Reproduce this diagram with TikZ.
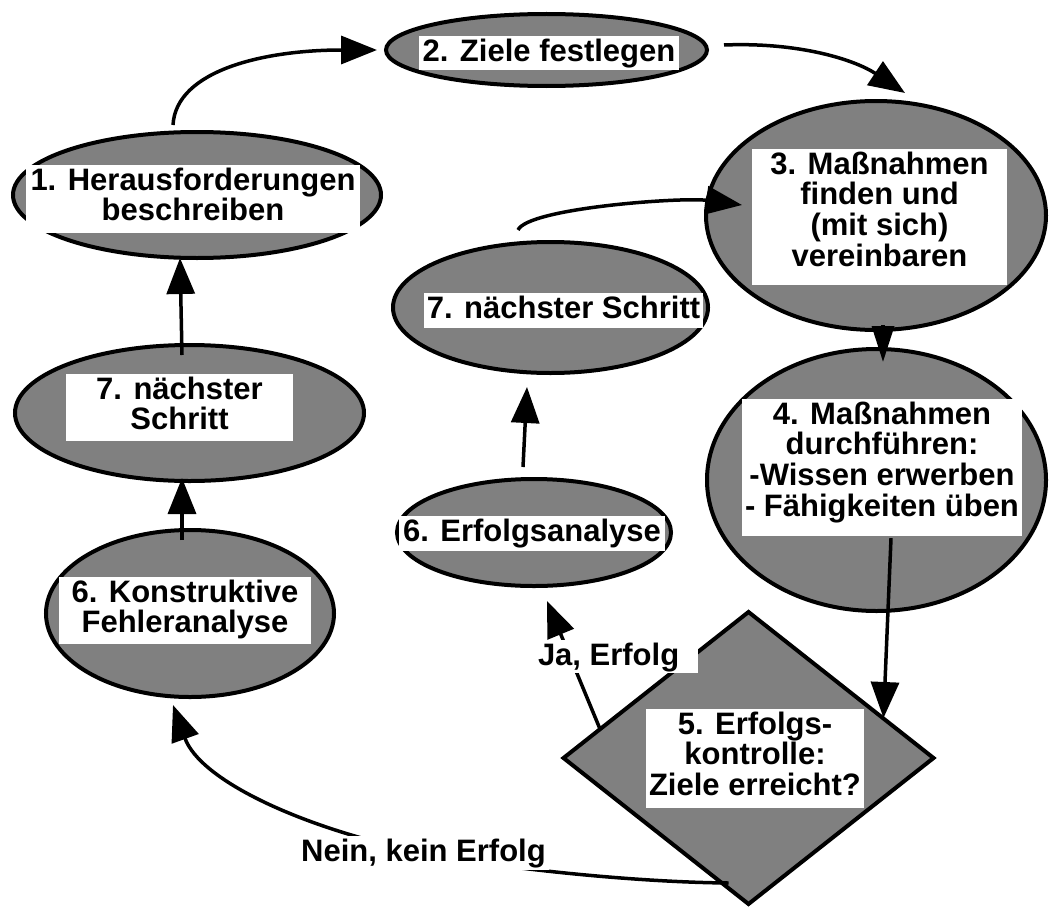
\documentclass[tikz,border=0pt]{standalone}
\usepackage{fontspec}
\setmainfont{Liberation Sans}
\usetikzlibrary{shapes.geometric,arrows.meta,calc}
\definecolor{shapegray}{RGB}{128,128,128}
\pgfdeclarelayer{shapelayer}
\pgfdeclarelayer{linklayer}
\pgfsetlayers{shapelayer,linklayer,main}
\newcommand\tbtop{\rule{0pt}{25pt}}
\newcommand\tbbot[1]{\rule[-#1]{0pt}{#1}}
\begin{document}
\begin{tikzpicture}[x=1pt,y=-1pt,
  oval/.style={ellipse, draw=black, line width=4pt, fill=shapegray, inner sep=0pt, outer sep=0pt},
  decision/.style={diamond, draw=black, line width=4pt, fill=shapegray, inner sep=0pt, outer sep=0pt},
  tb/.style={fill=white, inner sep=0pt, align=center, font=\bfseries\fontsize{31pt}{30.7pt}\selectfont},
  link/.style={line width=3.5pt, -{Triangle[length=36pt,width=28pt]}},
]
\useasboundingbox (0,0) rectangle (1051,907);

\begin{pgfonlayer}{shapelayer}
\node[oval, minimum width=368pt, minimum height=126pt] (e1) at (197,195) {};
\node[oval, minimum width=321pt, minimum height=72pt] (e2) at (546.5,50) {};
\node[oval, minimum width=340pt, minimum height=229pt] (e3) at (876,215.5) {};
\node[oval, minimum width=315pt, minimum height=131pt] (e7R) at (550.5,307.5) {};
\node[oval, minimum width=339pt, minimum height=262pt] (e4) at (876.5,480) {};
\node[oval, minimum width=349pt, minimum height=136pt] (e7L) at (189.5,413) {};
\node[oval, minimum width=274pt, minimum height=107pt] (e6E) at (534,532.5) {};
\node[oval, minimum width=288pt, minimum height=167pt] (e6K) at (190,613.5) {};
\node[decision, minimum width=370pt, minimum height=292pt] (d5) at (748.5,758) {};
\end{pgfonlayer}

\node[tb, minimum width=334pt] (t1) at (193,199) {\tbtop 1. Herausforderungen\\beschreiben\tbbot{12.3pt}};
\node[tb, minimum width=260pt] (t2) at (549,53) {\tbtop 2. Ziele festlegen\tbbot{9pt}};
\node[tb, minimum width=255pt] (t3) at (879.5,217) {\tbtop 3. Maßnahmen\\finden und\\(mit sich)\\vereinbaren\tbbot{18.9pt}};
\node[tb, minimum width=280pt] (t4) at (882,467.5) {\tbtop 4. Maßnahmen\\durchführen:\\-Wissen erwerben\\- Fähigkeiten üben\tbbot{19.9pt}};
\node[tb, minimum width=218pt] (t5) at (755,758.5) {\tbtop 5. Erfolgs-\\kontrolle:\\Ziele erreicht?\tbbot{12.6pt}};
\node[tb, minimum width=266pt] (t6E) at (532,533.5) {\tbtop 6. Erfolgsanalyse\tbbot{10pt}};
\node[tb, minimum width=252pt] (t6K) at (185,610.5) {\tbtop 6. Konstruktive\\Fehleranalyse\tbbot{11.3pt}};
\node[tb, minimum width=279pt] (t7R) at (563.5,310.5) {\tbtop 7. nächster Schritt\tbbot{10pt}};
\node[tb, minimum width=227pt] (t7L) at (179.5,407.5) {\tbtop 7. nächster\\Schritt\tbbot{11.3pt}};
\node[tb, minimum width=163pt] (lja) at (616.5,656.5) {\makebox[157pt][l]{\tbtop Ja, Erfolg\tbbot{8pt}}};
\node[tb, minimum width=250pt] (lnein) at (423.5,853) {\tbtop Nein, kein Erfolg\tbbot{9pt}};

\begin{pgfonlayer}{linklayer}
\draw[link] ($(e1.north)+(-24,-7)$) .. controls +(3,-55) and +(-112,0) .. ($(e2.west)+(-9,0)$);
\draw[link] ($(e2.east)+(17,-5)$) .. controls +(76,-3) and +(-50,-33) .. ($(e3.north)+(29,-8)$);
\draw[link, -{Triangle[length=36pt,width=22pt]}] ($(e3.south)+(7,-5)$) -- ($(e4.north)+(6.5,13)$);
\draw[link] ($(t4.south)+(9,2)$) -- ($(d5.north east)+(42.5,33)$);
\draw[link] ($(d5.north west)+(-56,44)$) -- ($(e6E.south)+(13,15)$);
\draw[link] ($(d5.south)+(-20,-21)$) .. controls +(-108,-1) and +(57,12) .. (lnein.center) .. controls +(-123,-25) and +(27,75) .. ($(e6K.south)+(-17,8)$);
\draw[link] ($(e6E.north)+(-11,-12)$) -- ($(e7R.south)+(-23.5,14)$);
\draw[link] ($(e7R.north)+(-32.5,-12)$) .. controls +(10,-22) and +(-60,-8) .. ($(e3.west)+(36,-10.5)$);
\draw[link] ($(e7L.north)+(-7.5,10)$) -- ($(e1.south)+(-17,0)$);
\draw[link] ($(e6K.north)+(-8,10)$) -- ($(e7L.south)+(-7.5,-3)$);
\end{pgfonlayer}
\end{tikzpicture}
\end{document}
